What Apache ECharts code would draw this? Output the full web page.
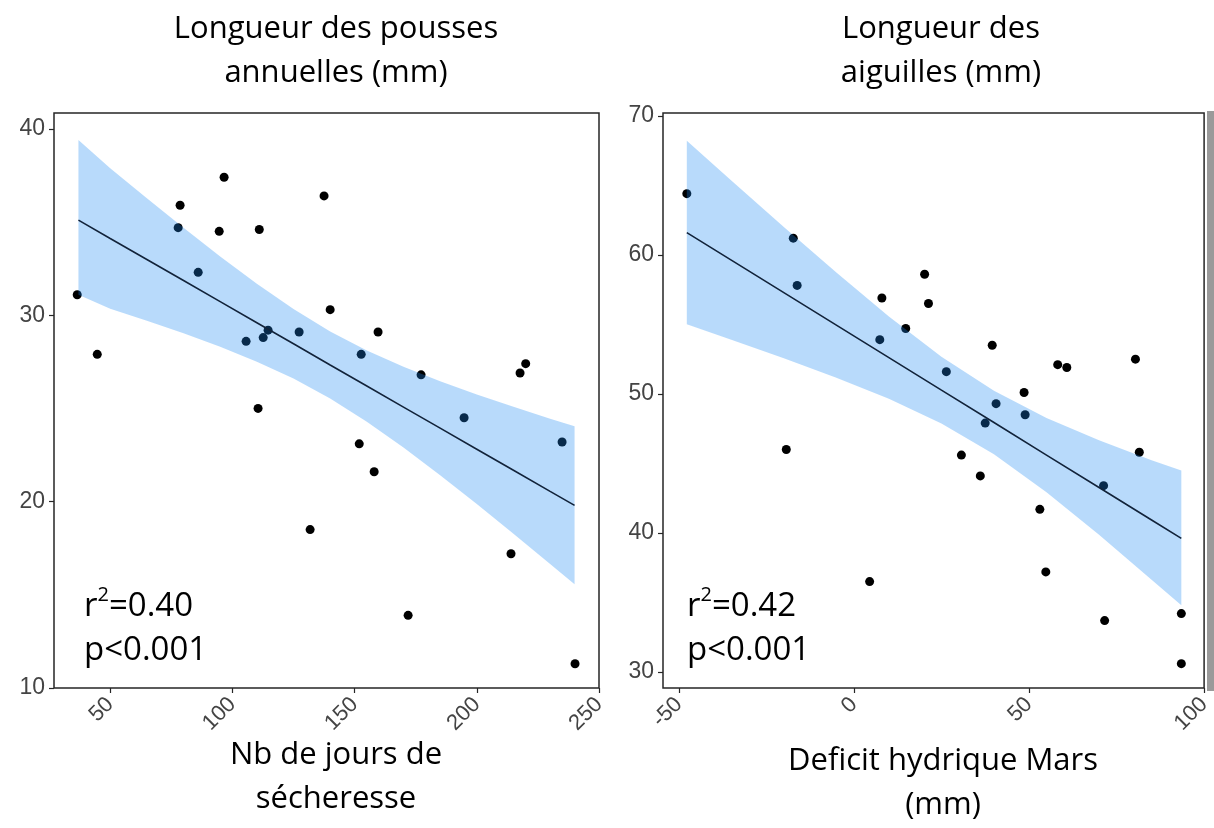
<!DOCTYPE html>
<html>
<head>
    <meta charset="utf-8">
    <title>Pousses et aiguilles</title>
    <script type="text/javascript" src="https://cdn.jsdelivr.net/npm/echarts@6/dist/echarts.min.js"></script>
    <style>
        html, body { margin: 0; padding: 0; background: #fff; }
        #main { width: 1214px; height: 828px; }
    </style>
</head>

<body>
    <div id="main"></div>
    <script type="text/javascript">
    // --- panneau gauche : longueur des pousses vs jours de secheresse
    var shootX = [36.5, 44.7, 78.6, 77.8, 86.0, 96.6, 94.6, 111.0, 105.6, 112.6, 114.6, 127.3, 137.5, 140.0,
                  159.6, 152.7, 177.2, 220.0, 217.7, 194.8, 234.9, 151.9, 158.0, 131.8, 214.0, 171.9, 240.2, 110.5];
    var shootY = [31.1, 27.9, 35.9, 34.7, 32.3, 37.4, 34.5, 34.6, 28.6, 28.8, 29.2, 29.1, 36.4, 30.3,
                  29.1, 27.9, 26.8, 27.4, 26.9, 24.5, 23.2, 23.1, 21.6, 18.5, 17.2, 13.9, 11.3, 25.0];
    var shootFitX = [37, 50, 65, 80, 95, 110, 125, 140, 155, 170, 185, 200, 215, 230, 240];
    var shootFit  = [35.1, 34.12, 32.99, 31.86, 30.73, 29.6, 28.47, 27.33, 26.2, 25.07, 23.94, 22.81, 21.68, 20.55, 19.8];
    var shootLow  = [31.1, 30.35, 29.71, 29.03, 28.31, 27.51, 26.6, 25.53, 24.29, 22.91, 21.42, 19.87, 18.27, 16.65, 15.56];
    var shootHigh = [39.4, 37.89, 36.27, 34.69, 33.15, 31.69, 30.34, 29.13, 28.11, 27.23, 26.46, 25.75, 25.09, 24.45, 24.05];
    var shootTicksX = [50, 100, 150, 200, 250];
    var shootTicksY = [10, 20, 30, 40];

    // --- panneau droit : longueur des aiguilles vs deficit hydrique de mars
    var needleX = [-47.7, -17.3, -16.2, 8.0, 7.4, 14.8, 20.2, 21.3, 39.5, 26.4, 58.2, 60.8, 80.4, 48.6,
                   40.6, 48.9, 37.5, 30.7, 36.1, 81.5, 71.3, 53.1, 54.8, 71.6, 93.5, 93.5, -19.3, 4.5];
    var needleY = [64.4, 61.2, 57.8, 56.9, 53.9, 54.7, 58.6, 56.5, 53.5, 51.6, 52.1, 51.9, 52.5, 50.1,
                   49.3, 48.5, 47.9, 45.6, 44.1, 45.8, 43.4, 41.7, 37.2, 33.7, 34.2, 30.6, 46.0, 36.5];
    var needleFitX = [-47.7, -35, -20, -5, 10, 25, 40, 55, 70, 85, 93.5];
    var needleFit  = [61.6, 59.62, 57.28, 54.95, 52.61, 50.27, 47.94, 45.6, 43.27, 40.93, 39.61];
    var needleLow  = [55.0, 53.9, 52.56, 51.17, 49.65, 47.87, 45.66, 42.93, 39.87, 36.63, 34.8];
    var needleHigh = [68.2, 65.34, 62.0, 58.73, 55.57, 52.67, 50.22, 48.27, 46.67, 45.23, 44.5];
    var needleTicksX = [-50, 0, 50, 100];
    var needleTicksY = [30, 40, 50, 60, 70];

    var bandColor = 'rgba(26, 135, 242, 0.31)';
    var frameColor = '#262626';
    var labelColor = '#444';

    function pairs(xs, ys) {
        var out = [];
        for (var i = 0; i < xs.length; i++) {
            out.push([xs[i], ys[i]]);
        }
        return out;
    }

    // intervalle de confiance : un polygone (haut puis bas a l'envers)
    function bandSeries(idx, xs, lo, hi) {
        return {
            type: 'custom',
            xAxisIndex: idx, yAxisIndex: idx,
            silent: true,
            z: 3,
            data: [0],
            renderItem: function (params, api) {
                var pts = [];
                for (var i = 0; i < xs.length; i++) {
                    pts.push(api.coord([xs[i], hi[i]]));
                }
                for (var j = xs.length - 1; j >= 0; j--) {
                    pts.push(api.coord([xs[j], lo[j]]));
                }
                return {
                    type: 'polygon',
                    shape: { points: pts },
                    style: { fill: bandColor, stroke: null }
                };
            }
        };
    }

    function xAxisOf(idx, min, max, ticks) {
        return {
            type: 'value', gridIndex: idx, min: min, max: max,
            splitLine: { show: false },
            axisLine: { show: false, onZero: false },
            axisTick: { show: true, length: 5, customValues: ticks, lineStyle: { color: frameColor, width: 1.2 } },
            axisLabel: { customValues: ticks, rotate: 45, margin: 13, fontSize: 22, color: labelColor, fontFamily: 'Liberation Sans' }
        };
    }

    function yAxisOf(idx, min, max, ticks) {
        return {
            type: 'value', gridIndex: idx, min: min, max: max,
            splitLine: { show: false },
            axisLine: { show: false, onZero: false },
            axisTick: { show: true, length: 5, customValues: ticks, lineStyle: { color: frameColor, width: 1.2 } },
            axisLabel: { customValues: ticks, margin: 9, fontSize: 23, color: labelColor, fontFamily: 'Liberation Sans' }
        };
    }

    var titleFont = { fontSize: 31, fontWeight: 'normal', color: '#000', fontFamily: 'Open Sans', lineHeight: 44 };
    var statRich = {
        b: { fontSize: 33, fontFamily: 'Open Sans', color: '#000', lineHeight: 44 },
        sup: { fontSize: 20, fontFamily: 'Open Sans', color: '#000', verticalAlign: 'top', lineHeight: 30 }
    };

    var myChart = echarts.init(document.getElementById('main'));

    var series = [];
    series.push({
        type: 'scatter', xAxisIndex: 0, yAxisIndex: 0,
        symbolSize: 9, itemStyle: { color: '#000', opacity: 1 }, z: 2,
        data: pairs(shootX, shootY)
    });
    series.push(bandSeries(0, shootFitX, shootLow, shootHigh));
    series.push({
        type: 'line', xAxisIndex: 0, yAxisIndex: 0,
        symbol: 'none', lineStyle: { color: '#12233a', width: 1.6 }, z: 4,
        data: pairs(shootFitX, shootFit)
    });
    series.push({
        type: 'scatter', xAxisIndex: 1, yAxisIndex: 1,
        symbolSize: 9, itemStyle: { color: '#000', opacity: 1 }, z: 2,
        data: pairs(needleX, needleY)
    });
    series.push(bandSeries(1, needleFitX, needleLow, needleHigh));
    series.push({
        type: 'line', xAxisIndex: 1, yAxisIndex: 1,
        symbol: 'none', lineStyle: { color: '#12233a', width: 1.6 }, z: 4,
        data: pairs(needleFitX, needleFit)
    });

    var option = {
        backgroundColor: '#fff',
        animation: false,
        title: [
            { text: 'Longueur des pousses\nannuelles (mm)', left: 331, top: 2, textAlign: 'center', textStyle: titleFont },
            { text: 'Longueur des\naiguilles (mm)', left: 936, top: 2, textAlign: 'center', textStyle: titleFont },
            { text: 'Nb de jours de\nsécheresse', left: 331, top: 728, textAlign: 'center', textStyle: titleFont },
            { text: 'Deficit hydrique Mars\n(mm)', left: 938, top: 734, textAlign: 'center', textStyle: titleFont }
        ],
        grid: [
            { left: 54, top: 113, width: 545, height: 575, show: true, borderColor: frameColor, borderWidth: 1.5, backgroundColor: '#fff' },
            { left: 663, top: 113, width: 544, height: 575, show: true, borderColor: frameColor, borderWidth: 1.5, backgroundColor: '#fff' }
        ],
        xAxis: [
            xAxisOf(0, 27, 250, shootTicksX),
            xAxisOf(1, -54.5, 100, needleTicksX)
        ],
        yAxis: [
            yAxisOf(0, 10, 40.85, shootTicksY),
            yAxisOf(1, 28.85, 70.2, needleTicksY)
        ],
        graphic: [
            { type: 'text', left: 84, top: 585, z: 10, style: { text: '{b|r}{sup|2}{b|=0.40}\n{b|p<0.001}', rich: statRich } },
            { type: 'text', left: 687, top: 585, z: 10, style: { text: '{b|r}{sup|2}{b|=0.42}\n{b|p<0.001}', rich: statRich } },
            { type: 'rect', left: 1207, top: 111, z: 10, shape: { width: 7, height: 580 }, style: { fill: '#9a9a9a' } }
        ],
        series: series
    };

    myChart.setOption(option);
    </script>
</body>
</html>
